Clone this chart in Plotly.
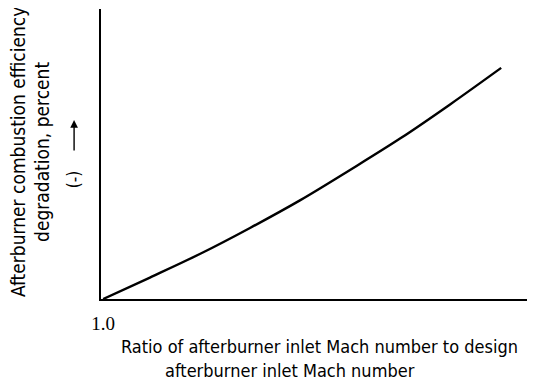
import plotly.graph_objects as go

# Data (arbitrary units on y)
mach_ratio = [1.0, 1.065, 1.135, 1.204, 1.274, 1.343, 1.413, 1.482, 1.553]
degradation = [0.0, 0.074, 0.156, 0.245, 0.341, 0.445, 0.554, 0.671, 0.797]
x_tick_vals = [1.0]
x_tick_text = ["1.0"]

FONT = "Liberation Sans Narrow, DejaVu Sans Condensed, Arial Narrow, sans-serif"

fig = go.Figure()
fig.add_trace(go.Scatter(
    x=mach_ratio, y=degradation, mode="lines",
    line=dict(color="black", width=2.4, shape="spline"),
    showlegend=False, hoverinfo="skip"))

fig.update_layout(
    width=527, height=379,
    margin=dict(l=93, r=0, t=1, b=88, pad=0),
    paper_bgcolor="white", plot_bgcolor="white",
    font=dict(family=FONT, size=18, color="black"),
    xaxis=dict(range=[0.997, 1.6], showgrid=False, zeroline=False,
               showline=True, linecolor="black", linewidth=2,
               tickvals=x_tick_vals, ticktext=x_tick_text, ticks="",
               ticklabelstandoff=6,
               tickfont=dict(size=19, family="Liberation Serif, serif")),
    yaxis=dict(range=[0, 1], showgrid=False, zeroline=False,
               showline=True, linecolor="black", linewidth=2,
               showticklabels=False, ticks=""),
)

# x-axis title (two lines)
fig.add_annotation(text="Ratio of afterburner inlet Mach number to design",
                   xref="paper", yref="paper", x=0.5046, y=-0.1655,
                   xanchor="center", yanchor="middle", showarrow=False,
                   font=dict(size=18))
fig.add_annotation(text="afterburner inlet Mach number",
                   xref="paper", yref="paper", x=0.436, y=-0.245,
                   xanchor="center", yanchor="middle", showarrow=False,
                   font=dict(size=18))
# y-axis title (two lines, rotated)
fig.add_annotation(text="Afterburner combustion efficiency",
                   xref="paper", yref="paper", x=-0.191, y=0.507,
                   xanchor="center", yanchor="middle", textangle=-90,
                   showarrow=False, font=dict(size=19))
fig.add_annotation(text="degradation, percent",
                   xref="paper", yref="paper", x=-0.136, y=0.507,
                   xanchor="center", yanchor="middle", textangle=-90,
                   showarrow=False, font=dict(size=19))
# "(-)" with upward arrow
fig.add_annotation(text="(-)", xref="paper", yref="paper", x=-0.062, y=0.41,
                   xanchor="center", yanchor="middle", textangle=-90,
                   showarrow=False, font=dict(size=17))
fig.add_annotation(x=-0.062, y=0.617, xref="paper", yref="paper", ax=0, ay=32,
                   text="", showarrow=True, arrowhead=2, arrowsize=1.1, arrowwidth=1.4,
                   arrowcolor="black")

fig.write_html("out.html")
